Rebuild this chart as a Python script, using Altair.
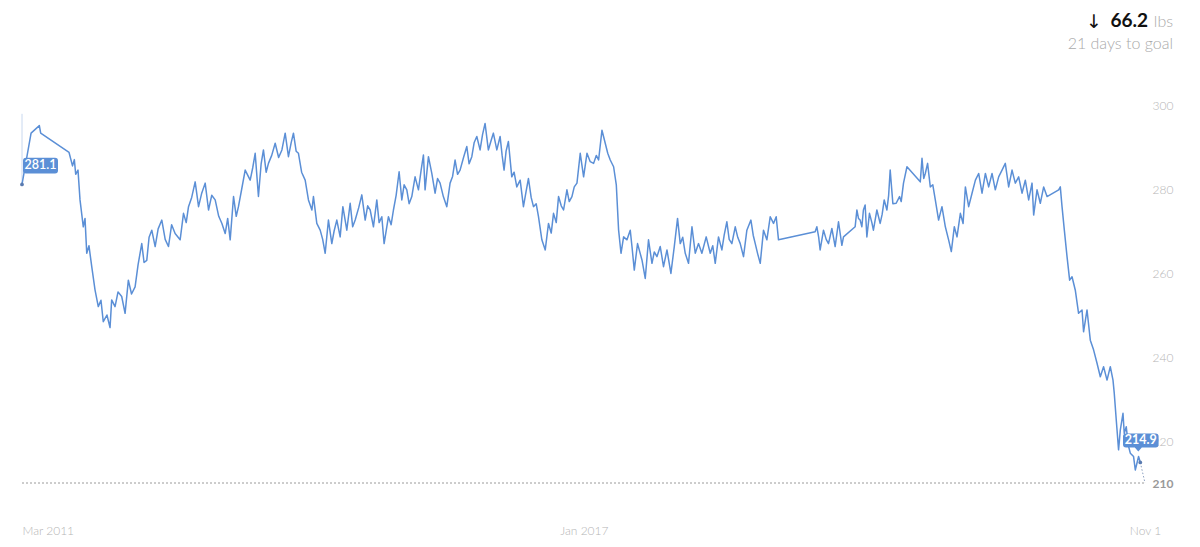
import altair as alt
import pandas as pd

# ---- data ----
years = [
2011.162, 2011.256, 2011.342, 2011.356, 2011.651, 2011.687, 2011.706, 2011.720, 2011.744, 2011.765,
2011.799, 2011.817, 2011.835, 2011.858, 2011.887, 2011.921, 2011.955, 2011.983, 2012.007, 2012.045,
2012.077, 2012.094, 2012.129, 2012.160, 2012.198, 2012.233, 2012.267, 2012.300, 2012.337, 2012.368,
2012.406, 2012.430, 2012.458, 2012.482, 2012.510, 2012.545, 2012.576, 2012.614, 2012.649, 2012.683,
2012.716, 2012.752, 2012.804, 2012.839, 2012.867, 2012.891, 2012.924, 2012.960, 2012.995, 2013.028,
2013.064, 2013.099, 2013.132, 2013.168, 2013.205, 2013.238, 2013.272, 2013.298, 2013.324, 2013.359,
2013.387, 2013.410, 2013.444, 2013.480, 2013.532, 2013.558, 2013.584, 2013.618, 2013.646, 2013.670,
2013.698, 2013.722, 2013.756, 2013.792, 2013.828, 2013.862, 2013.896, 2013.930, 2013.958, 2013.982,
2014.010, 2014.034, 2014.067, 2014.104, 2014.138, 2014.174, 2014.190, 2014.225, 2014.260, 2014.286,
2014.312, 2014.346, 2014.381, 2014.405, 2014.433, 2014.468, 2014.496, 2014.537, 2014.572, 2014.598,
2014.624, 2014.660, 2014.693, 2014.728, 2014.754, 2014.780, 2014.814, 2014.849, 2014.873, 2014.901,
2014.925, 2014.970, 2014.998, 2015.022, 2015.050, 2015.081, 2015.109, 2015.133, 2015.161, 2015.185,
2015.213, 2015.247, 2015.282, 2015.310, 2015.334, 2015.351, 2015.386, 2015.421, 2015.455, 2015.481,
2015.507, 2015.541, 2015.577, 2015.611, 2015.637, 2015.663, 2015.689, 2015.715, 2015.751, 2015.785,
2015.809, 2015.837, 2015.861, 2015.889, 2015.923, 2015.949, 2015.975, 2016.009, 2016.037, 2016.061,
2016.097, 2016.131, 2016.152, 2016.172, 2016.193, 2016.217, 2016.252, 2016.276, 2016.304, 2016.339,
2016.373, 2016.401, 2016.425, 2016.453, 2016.477, 2016.505, 2016.529, 2016.564, 2016.599, 2016.633,
2016.661, 2016.685, 2016.713, 2016.737, 2016.765, 2016.789, 2016.824, 2016.848, 2016.876, 2016.900,
2016.928, 2016.962, 2016.997, 2017.032, 2017.066, 2017.101, 2017.129, 2017.153, 2017.188, 2017.222,
2017.248, 2017.274, 2017.309, 2017.337, 2017.361, 2017.386, 2017.413, 2017.448, 2017.482, 2017.500,
2017.524, 2017.558, 2017.604, 2017.638, 2017.672, 2017.708, 2017.732, 2017.760, 2017.794, 2017.828,
2017.864, 2017.905, 2017.940, 2017.974, 2018.002, 2018.028, 2018.054, 2018.088, 2018.124, 2018.158,
2018.192, 2018.227, 2018.272, 2018.314, 2018.340, 2018.366, 2018.400, 2018.435, 2018.459, 2018.487,
2018.511, 2018.539, 2018.574, 2018.600, 2018.626, 2018.660, 2018.695, 2018.737, 2018.761, 2018.782,
2018.808, 2018.834, 2018.868, 2018.903, 2018.938, 2018.972, 2019.000, 2019.024, 2019.405, 2019.423,
2019.442, 2019.457, 2019.492, 2019.520, 2019.544, 2019.579, 2019.613, 2019.648, 2019.683, 2019.700,
2019.821, 2019.839, 2019.856, 2019.873, 2019.891, 2019.907, 2019.925, 2019.943, 2019.970, 2019.995,
2020.011, 2020.047, 2020.081, 2020.102, 2020.123, 2020.151, 2020.169, 2020.185, 2020.213, 2020.247,
2020.282, 2020.299, 2020.323, 2020.359, 2020.497, 2020.515, 2020.533, 2020.549, 2020.573, 2020.601,
2020.627, 2020.653, 2020.687, 2020.722, 2020.757, 2020.791, 2020.819, 2020.850, 2020.878, 2020.913,
2020.941, 2020.965, 2020.999, 2021.034, 2021.069, 2021.103, 2021.138, 2021.173, 2021.207, 2021.242,
2021.276, 2021.311, 2021.346, 2021.380, 2021.415, 2021.450, 2021.484, 2021.519, 2021.554, 2021.588,
2021.623, 2021.658, 2021.675, 2021.710, 2021.744, 2021.779, 2021.814, 2021.935, 2021.952, 2021.970,
2021.994, 2022.022, 2022.049, 2022.074, 2022.108, 2022.142, 2022.178, 2022.194, 2022.230, 2022.264,
2022.298, 2022.334, 2022.368, 2022.402, 2022.438, 2022.472, 2022.500, 2022.513, 2022.534, 2022.558,
2022.576, 2022.604, 2022.617, 2022.638, 2022.659, 2022.680, 2022.714, 2022.732, 2022.766, 2022.784,
]
weights = [
281.1, 293.3, 295.1, 293.3, 288.7, 285.5, 287.0, 283.5, 284.5, 277.4,
271.0, 273.0, 264.7, 266.5, 261.5, 256.0, 252.0, 253.5, 248.4, 250.0,
247.0, 253.6, 252.0, 255.5, 254.4, 250.4, 258.3, 255.0, 256.7, 262.0,
267.0, 262.5, 263.0, 268.5, 270.2, 266.3, 270.5, 272.6, 268.0, 266.3,
271.5, 269.4, 267.9, 274.2, 272.0, 275.8, 278.0, 281.7, 275.8, 279.0,
281.4, 275.0, 278.5, 277.4, 273.5, 271.8, 269.4, 273.0, 267.9, 278.2,
273.5, 275.8, 280.0, 284.5, 282.1, 285.0, 288.5, 278.2, 286.0, 289.3,
284.0, 286.1, 288.0, 290.9, 287.5, 289.3, 293.3, 287.7, 291.0, 293.3,
289.0, 288.5, 284.0, 282.1, 277.4, 275.0, 278.2, 271.8, 270.2, 268.0,
264.7, 272.6, 267.0, 270.0, 272.6, 268.6, 275.8, 270.2, 276.6, 271.0,
272.6, 275.5, 278.6, 272.6, 276.0, 275.0, 271.0, 277.4, 272.0, 273.4,
267.0, 273.4, 271.5, 275.0, 278.5, 284.1, 277.4, 281.0, 279.8, 276.5,
278.2, 282.9, 279.8, 284.5, 288.1, 279.8, 287.7, 283.7, 279.0, 282.5,
281.4, 278.2, 275.8, 281.4, 283.0, 286.9, 283.5, 284.5, 287.5, 290.1,
286.0, 287.7, 291.0, 292.5, 289.3, 293.0, 295.6, 289.3, 291.5, 293.3,
289.3, 292.5, 288.0, 284.5, 289.0, 291.3, 282.9, 284.0, 280.5, 282.1,
275.8, 279.5, 282.5, 278.0, 275.8, 276.5, 273.4, 267.9, 265.5, 271.8,
269.5, 274.2, 272.0, 278.2, 276.0, 275.0, 279.8, 277.0, 278.2, 280.5,
281.4, 288.5, 282.9, 288.5, 286.5, 286.1, 288.0, 286.9, 294.0, 290.9,
288.5, 286.9, 285.3, 281.0, 270.2, 264.7, 268.6, 267.9, 270.2, 266.3,
260.7, 267.0, 263.1, 258.7, 267.9, 262.3, 265.0, 263.9, 266.3, 261.5,
265.5, 259.9, 266.3, 273.0, 267.0, 268.5, 264.7, 262.3, 271.0, 264.7,
267.0, 264.7, 268.6, 264.7, 266.5, 262.3, 268.6, 265.5, 269.0, 272.2,
268.0, 267.0, 271.0, 268.5, 267.0, 263.9, 270.2, 272.6, 269.0, 267.0,
264.5, 262.3, 270.2, 267.9, 273.4, 271.8, 273.4, 267.9, 269.8, 271.0,
268.5, 265.5, 270.2, 268.0, 267.0, 270.6, 266.3, 272.2, 266.6, 268.6,
271.0, 275.0, 273.0, 272.6, 271.0, 275.0, 276.2, 268.6, 274.2, 272.0,
270.2, 275.0, 271.8, 274.0, 277.4, 275.0, 278.5, 284.5, 276.5, 276.6,
278.2, 277.0, 281.4, 285.3, 281.7, 287.3, 282.5, 283.7, 286.1, 280.5,
281.0, 277.4, 272.6, 275.8, 271.0, 267.9, 265.1, 271.0, 268.6, 274.2,
271.8, 280.5, 275.8, 279.0, 282.1, 283.7, 279.0, 283.7, 280.5, 283.7,
279.8, 282.9, 284.5, 286.1, 280.5, 284.5, 281.4, 282.9, 279.0, 282.1,
277.4, 281.4, 273.8, 279.8, 276.6, 280.5, 278.2, 279.8, 280.5, 275.8,
270.2, 263.9, 258.3, 259.1, 255.9, 250.4, 251.2, 246.0, 251.2, 244.0,
241.7, 238.5, 235.3, 237.7, 234.5, 237.7, 234.5, 231.4, 225.0, 217.9,
222.6, 226.6, 221.8, 223.4, 219.0, 217.1, 216.3, 213.1, 216.3, 214.9,
]
start_label = "281.1"
end_label = "214.9"
goal_weight = 210
rule_top = 297.9
start_date = "2011-03-01T00:00:00"
goal_date = "2022-11-01T00:00:00"
y_ticks = [210, 220, 240, 260, 280, 300]
header_change = "66.2"
header_unit = "lbs"
header_sub = "21 days to goal"


def dec_to_str(y):
    yr = int(y)
    a = pd.Timestamp(yr, 1, 1)
    b = pd.Timestamp(yr + 1, 1, 1)
    return (a + (b - a) * (y - yr)).strftime("%Y-%m-%dT%H:%M:%S")


dates = [dec_to_str(v) for v in years]
dates[0] = start_date
df = pd.DataFrame({"date": dates, "w": weights})

FONT = "Lato"
BLUE = "#5b8fd6"

xscale = alt.Scale(domain=[alt.DateTime(year=2011, month=3, date=1),
                           alt.DateTime(year=2022, month=11, date=1)],
                   range=[14, 1137])
yscale = alt.Scale(domain=[210, 300], range=[475, 97], zero=False, nice=False)

xaxis = alt.Axis(
    values=[alt.DateTime(year=2011, month=3, date=1),
            alt.DateTime(year=2017, month=1, date=1),
            alt.DateTime(year=2022, month=11, date=1)],
    labelExpr="year(datum.value) == 2022 ? 'Nov 1' : timeFormat(datum.value, '%b %Y')",
    labelAlign=alt.condition("year(datum.value) == 2011", alt.value("left"), alt.value("center")),
    domain=False, ticks=False, grid=False, title=None,
    labelPadding=7, labelFontSize=12, labelColor="#b5b5b5", labelFont=FONT,
    labelFontWeight=300,
)
yaxis = alt.Axis(
    orient="right", values=y_ticks, domain=False, ticks=False, grid=False, title=None,
    labelPadding=1, labelFontSize=12, labelFont=FONT,
    labelColor=alt.condition("datum.value == 210", alt.value("#999999"), alt.value("#b5b5b5")),
    labelFontWeight=alt.condition("datum.value == 210", alt.value("bold"), alt.value(300)),
)

X = alt.X("date:T", scale=xscale, axis=xaxis)
Y = alt.Y("w:Q", scale=yscale, axis=yaxis)

main = alt.Chart(df).mark_line(color=BLUE, strokeWidth=1.5, strokeJoin="round").encode(x=X, y=Y)

goal_df = pd.DataFrame({"date": [start_date, goal_date], "w": [goal_weight, goal_weight]})
goal = alt.Chart(goal_df).mark_line(color="#9a9a9a", strokeWidth=1, strokeDash=[2, 2]).encode(x=X, y=Y)

proj_df = pd.DataFrame({"date": [dates[-1], goal_date], "w": [weights[-1], goal_weight]})
proj = alt.Chart(proj_df).mark_line(color="#8a9fc0", strokeWidth=1, strokeDash=[1.5, 2]).encode(x=X, y=Y)

rule_df = pd.DataFrame({"date": [start_date], "w": [weights[0]], "w2": [rule_top]})
rule = alt.Chart(rule_df).mark_rule(color="#c8d8ef", strokeWidth=1).encode(
    x=X, y=Y, y2="w2:Q")

ends_df = pd.DataFrame({"date": [dates[0], dates[-1]], "w": [weights[0], weights[-1]]})
dots = alt.Chart(ends_df).mark_circle(color="#5a7bb0", size=14, opacity=1).encode(x=X, y=Y)

start_df = pd.DataFrame({"date": [dates[0]], "w": [weights[0]], "t": [start_label]})
end_df = pd.DataFrame({"date": [dates[-1]], "w": [weights[-1]], "t": [end_label]})

box_start_path = ("M0.4,-2.67 H3.3 Q3.6,-2.67 3.6,-2.37 V-1.4 Q3.6,-1.1 3.3,-1.1 "
                  "H0.4 Q0.1,-1.1 0.1,-1.4 V-2.37 Q0.1,-2.67 0.4,-2.67 Z")
box_end_path = ("M-1.43,-2.9 H1.53 Q1.83,-2.9 1.83,-2.6 V-1.8 Q1.83,-1.5 1.53,-1.5 "
                "H0.15 L-0.2,-1.1 L-0.55,-1.5 H-1.43 Q-1.73,-1.5 -1.73,-1.8 "
                "V-2.6 Q-1.73,-2.9 -1.43,-2.9 Z")

box_start = alt.Chart(start_df).mark_point(
    shape=box_start_path, size=400, filled=True, fill=BLUE, opacity=1, strokeWidth=0
).encode(x=X, y=Y)
box_end = alt.Chart(end_df).mark_point(
    shape=box_end_path, size=400, filled=True, fill=BLUE, opacity=1, strokeWidth=0
).encode(x=X, y=Y)

txt_start = alt.Chart(start_df).mark_text(
    color="white", font=FONT, fontSize=12.5, fontWeight=600, dx=18.5, dy=-19, baseline="middle"
).encode(x=X, y=Y, text="t:N")
txt_end = alt.Chart(end_df).mark_text(
    color="white", font=FONT, fontSize=12.5, fontWeight="bold", dx=0.5, dy=-22, baseline="middle"
).encode(x=X, y=Y, text="t:N")

hdr_df = pd.DataFrame({"a": ["\u2193"], "b": [header_change], "c": [header_unit], "d": [header_sub]})
h_arrow = alt.Chart(hdr_df).mark_text(
    align="right", baseline="alphabetic", font="DejaVu Sans", fontSize=19, color="#111111"
).encode(x=alt.value(1094), y=alt.value(20), text="a:N")
h_num = alt.Chart(hdr_df).mark_text(
    align="right", baseline="alphabetic", font=FONT, fontSize=19, fontWeight="bold", color="#111111"
).encode(x=alt.value(1140), y=alt.value(19), text="b:N")
h_unit = alt.Chart(hdr_df).mark_text(
    align="right", baseline="alphabetic", font=FONT, fontSize=16, fontWeight=300, color="#aaaaaa"
).encode(x=alt.value(1165), y=alt.value(19), text="c:N")
h_sub = alt.Chart(hdr_df).mark_text(
    align="right", baseline="alphabetic", font=FONT, fontSize=16, fontWeight=300, color="#aaaaaa"
).encode(x=alt.value(1165), y=alt.value(41), text="d:N")

chart = alt.layer(
    goal, rule, main, proj, dots, box_start, box_end, txt_start, txt_end,
    h_arrow, h_num, h_unit, h_sub
).properties(
    width=1143, height=510,
    background="white",
    autosize=alt.AutoSizeParams(type="none"),
    padding={"left": 0, "top": 0, "right": 40, "bottom": 21},
).configure_view(stroke=None, strokeWidth=0)

chart.save("out.html", embed_options={"renderer": "svg", "actions": False})
